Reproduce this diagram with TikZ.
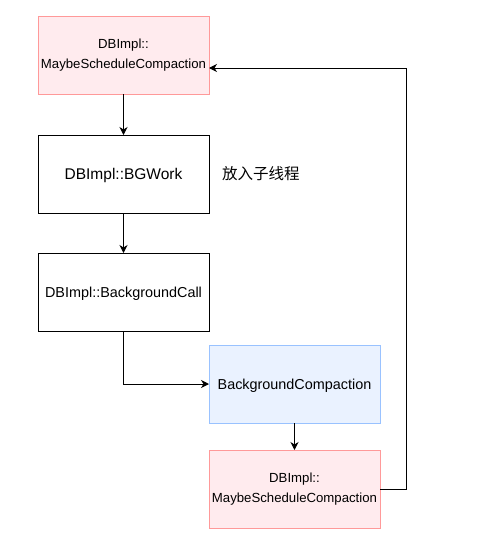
\documentclass[tikz,border=0pt]{standalone}
\usepackage{fontspec}
\setmainfont{Liberation Sans}
\newfontfamily\cjkfont{Noto Sans CJK SC}
\usepackage{tikz}
\usetikzlibrary{positioning,calc,arrows.meta}
\definecolor{pinkfill}{HTML}{FFEBEE}
\definecolor{pinkdraw}{HTML}{FF9999}
\definecolor{bluefill}{HTML}{EAF2FF}
\definecolor{bluedraw}{HTML}{99C2FF}
\tikzstyle{line} = [draw,line width=1pt,-{Stealth[length=8pt,width=8pt,inset=2.5pt]}]

\begin{document}
\begin{tikzpicture}[x=1pt,y=-1pt,node distance=40pt,
            box/.style = {rectangle, draw, line width=1pt,
              minimum width=171pt, minimum height=78pt,
              align=center, inner sep=0pt, outer sep=0pt},
            small/.style = {font=\fontsize{13.2}{19.5}\selectfont},
            big/.style = {font=\fontsize{14.4}{18}\selectfont, text height=1.25em, text depth=0.2em},
            huge/.style = {font=\fontsize{15.5}{18}\selectfont, text height=1.25em, text depth=0.2em},
            sched/.style = {box, small, fill=pinkfill, draw=pinkdraw},
            plain/.style = {box, fill=white, draw=black}]
            \useasboundingbox (0,0) rectangle (485,538);
            \node[sched] (sched1) at (123.5,55) {DBImpl::\\MaybeScheduleCompaction};
            \node[plain, huge] (bgwork) [below = 41pt of sched1] {DBImpl::BGWork};
            \node[plain, big] (bgcall) [below = of bgwork] {DBImpl::BackgroundCall};
            \node[box, big, fill=bluefill, draw=bluedraw] (bgcomp) [below right = 14pt and 0pt of bgcall.south east, anchor=north west] {BackgroundCompaction};
            \node[sched] (sched2) [below = 27pt of bgcomp] {DBImpl::\\MaybeScheduleCompaction};
            \node[huge, anchor=west, inner sep=0pt] (thread) [right = 13pt of bgwork] {\cjkfont 放入子线程};
            \path [line] (sched1) -- (bgwork);
            \path [line] (bgwork) -- (bgcall);
            \path [line] (bgcall) |- (bgcomp);
            \path [line] (bgcomp) -- (sched2);
            \path [line] (sched2.east) -- ++(26pt,0pt) |- ([yshift=-13pt]sched1.east);
\end{tikzpicture}
\end{document}
